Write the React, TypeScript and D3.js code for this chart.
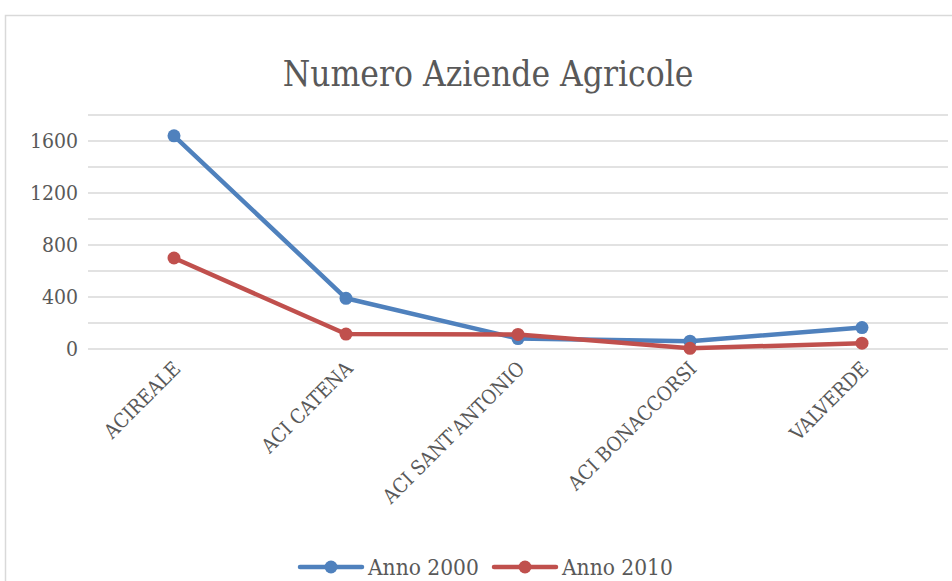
import React from "react";
import * as d3 from "d3";

const categories = ["ACIREALE", "ACI CATENA", "ACI SANT'ANTONIO", "ACI BONACCORSI", "VALVERDE"];
const anno2000 = [1640, 390, 80, 60, 165];
const anno2010 = [700, 115, 112, 5, 45];
const yTicks = [0, 400, 800, 1200, 1600];
const gridTicks = [0, 200, 400, 600, 800, 1000, 1200, 1400, 1600, 1800];
const seriesNames = ["Anno 2000", "Anno 2010"];
const colors = ["#4F81BD", "#C0504D"];

const W = 952, H = 581;
const FONT = "'DejaVu Serif Condensed', 'DejaVu Serif', serif";

export default function App() {
  const x = d3.scaleBand().domain(categories).range([88, 948]);
  const y = d3.scaleLinear().domain([0, 1800]).range([349, 115]);
  const line = d3.line<number>().x((_, i) => x(categories[i])! + x.bandwidth() / 2).y((d) => y(d));
  const series = [anno2000, anno2010];
  return (
    <svg width={W} height={H} style={{ position: "absolute", left: 0, top: 0, background: "#fff" }}>
      <rect x={5.5} y={15.5} width={960} height={600} fill="#fff" stroke="#D9D9D9" strokeWidth={1.5} />
      <text x={488} y={86} textAnchor="middle" fontFamily={FONT} fontSize={35} fill="#595959">Numero Aziende Agricole</text>
      {gridTicks.map((t) => (
        <line key={t} x1={88} x2={948} y1={y(t)} y2={y(t)} stroke="#D9D9D9" strokeWidth={1.5} />
      ))}
      {yTicks.map((t) => (
        <text key={t} x={78} y={y(t)} dy="0.35em" textAnchor="end" fontFamily={FONT} fontSize={21} fill="#595959">{t}</text>
      ))}
      {categories.map((c) => {
        const cx = x(c)! + x.bandwidth() / 2 - 2;
        const cy = 360;
        return (
          <text key={c} transform={`translate(${cx},${cy}) rotate(-45)`} textAnchor="end" dy="0.7em" fontFamily={FONT} fontSize={20} fill="#595959">{c}</text>
        );
      })}
      {series.map((s, si) => (
        <g key={si}>
          <path d={line(s)!} fill="none" stroke={colors[si]} strokeWidth={4.5} strokeLinejoin="round" strokeLinecap="round" />
          {s.map((v, i) => (
            <circle key={i} cx={x(categories[i])! + x.bandwidth() / 2} cy={y(v)} r={6.5} fill={colors[si]} />
          ))}
        </g>
      ))}
      {seriesNames.map((n, i) => {
        const lx = i === 0 ? 300 : 494;
        const ly = 567;
        return (
          <g key={n}>
            <line x1={lx} x2={lx + 62} y1={ly} y2={ly} stroke={colors[i]} strokeWidth={4.5} strokeLinecap="round" />
            <circle cx={lx + 31} cy={ly} r={6.5} fill={colors[i]} />
            <text x={lx + 68} y={ly} dy="0.35em" fontFamily={FONT} fontSize={22.5} fill="#595959">{n}</text>
          </g>
        );
      })}
    </svg>
  );
}
